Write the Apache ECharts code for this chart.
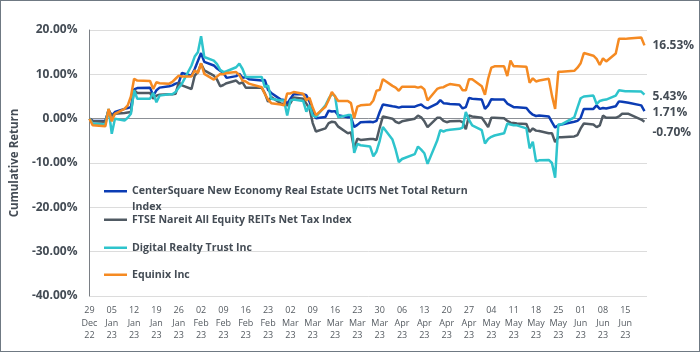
<!DOCTYPE html>
<html>
<head>
<meta charset="utf-8">
<script src="https://cdn.jsdelivr.net/npm/echarts@6/dist/echarts.min.js"></script>
<style>
  html, body { margin: 0; padding: 0; background: #fff; }
  #chart { width: 700px; height: 352px; box-sizing: border-box; border: 1px solid #6f7983; }
</style>
</head>
<body>
<div id="chart"></div>
<script>
// business days of the period
var dates = [
  '2022-12-29','2022-12-30',
  '2023-01-03','2023-01-04','2023-01-05','2023-01-06',
  '2023-01-09','2023-01-10','2023-01-11','2023-01-12','2023-01-13',
  '2023-01-17','2023-01-18','2023-01-19','2023-01-20',
  '2023-01-23','2023-01-24','2023-01-25','2023-01-26','2023-01-27',
  '2023-01-30','2023-01-31','2023-02-01','2023-02-02','2023-02-03',
  '2023-02-06','2023-02-07','2023-02-08','2023-02-09','2023-02-10',
  '2023-02-13','2023-02-14','2023-02-15','2023-02-16','2023-02-17',
  '2023-02-21','2023-02-22','2023-02-23','2023-02-24',
  '2023-02-27','2023-02-28','2023-03-01','2023-03-02','2023-03-03',
  '2023-03-06','2023-03-07','2023-03-08','2023-03-09','2023-03-10',
  '2023-03-13','2023-03-14','2023-03-15','2023-03-16','2023-03-17',
  '2023-03-20','2023-03-21','2023-03-22','2023-03-23','2023-03-24',
  '2023-03-27','2023-03-28','2023-03-29','2023-03-30','2023-03-31',
  '2023-04-03','2023-04-04','2023-04-05','2023-04-06',
  '2023-04-10','2023-04-11','2023-04-12','2023-04-13','2023-04-14',
  '2023-04-17','2023-04-18','2023-04-19','2023-04-20','2023-04-21',
  '2023-04-24','2023-04-25','2023-04-26','2023-04-27','2023-04-28',
  '2023-05-01','2023-05-02','2023-05-03','2023-05-04','2023-05-05',
  '2023-05-08','2023-05-09','2023-05-10','2023-05-11','2023-05-12',
  '2023-05-15','2023-05-16','2023-05-17','2023-05-18','2023-05-19',
  '2023-05-22','2023-05-23','2023-05-24','2023-05-25','2023-05-26',
  '2023-05-30','2023-05-31','2023-06-01','2023-06-02',
  '2023-06-05','2023-06-06','2023-06-07','2023-06-08','2023-06-09',
  '2023-06-12','2023-06-13','2023-06-14','2023-06-15','2023-06-16',
  '2023-06-20','2023-06-21'
];

var centerSquare = [
  0, -0.5,
  -0.5, 1.9, 0.7, 1.5,
  2.2, 2.4, 2.6, 6.6, 6.9,
  7.0, 5.2, 6.4, 7.0,
  7.3, 7.5, 7.9, 8.1, 10.3,
  9.7, 11.2, 13.0, 14.8, 12.8,
  12.0, 11.3, 10.8, 10.3, 9.2,
  9.6, 10.1, 9.2, 9.4, 8.9,
  8.6, 8.7, 6.5, 5.8,
  4.3, 4.2, 3.4, 4.5, 5.5,
  5.5, 5.3, 3.8, 2.0, 0.1,
  0.4, 1.8, 1.6, 1.7, 0.8,
  0.3, 0.3, -1.9, -1.4, -0.8,
  -0.7, -0.8, -0.5, 1.5, 3.2,
  2.8, 2.7, 2.5, 2.7,
  2.7, 3.0, 3.2, 2.6, 2.3,
  3.4, 4.2, 3.5, 3.4, 3.3,
  3.2, 2.3, 2.6, 4.7, 4.5,
  4.3, 2.2, 3.0, 4.4, 4.3,
  4.3, 3.4, 3.0, 2.6, 2.6,
  2.4, 1.5, 0.9, 0.6, 0.7,
  0.5, -0.8, -2.0, -1.5, -1.3,
  -0.7, -0.5, 0.2, 2.2,
  2.2, 3.0, 2.2, 2.4, 2.3,
  2.8, 3.9, 3.8, 3.7, 3.6,
  3.0, 1.71
];

var ftseNareit = [
  0, -0.5,
  -0.7, 1.9, 0.7, 1.1,
  1.3, 1.4, 1.5, 6.4, 5.8,
  5.8, 4.5, 5.2, 5.4,
  5.5, 5.5, 5.6, 8.2, 7.5,
  6.7, 9.7, 10.5, 12.4, 10.9,
  9.7, 8.8, 7.3, 7.6, 8.0,
  8.6, 7.9, 8.2, 7.0, 7.0,
  7.0, 5.7, 3.8, 4.9,
  3.4, 3.3, 3.0, 3.5, 4.8,
  4.5, 3.4, 2.3, -1.0, -2.9,
  -2.2, -1.0, -0.7, -0.8, -1.8,
  -3.3, -3.1, -6.8, -4.5, -4.8,
  -4.6, -4.6, -4.8, -2.0, 0.5,
  0.0, -0.7, -1.0, -0.6,
  0.0, 0.7, 0.3, -0.6, -1.9,
  0.2, 0.2, -0.5, -0.8, -0.6,
  -0.5, -0.8, -2.4, 0.7, 0.5,
  0.2, -0.8, -1.9, 0.2, 0.2,
  0.1, -0.5, -0.9, -1.0, -1.1,
  -1.2, -3.0, -2.2, -2.7, -2.8,
  -3.3, -3.3, -5.3, -4.2, -4.2,
  -4.0, -3.7, -2.2, -1.1,
  -1.3, -1.9, -1.5, 0.7, 0.2,
  0.2, 0.5, 1.1, 1.1, 1.1,
  -0.2, -0.70
];

var digitalRealty = [
  0, -1.1,
  -1.3, 2.2, -3.4, 0.0,
  -0.4, 0.2, 1.1, 6.4, 4.5,
  4.5, 5.8, 3.7, 5.2,
  5.5, 5.5, 6.0, 7.0, 7.9,
  12.0, 14.0, 15.0, 18.6, 13.9,
  13.1, 12.3, 11.0, 10.5, 10.7,
  11.6, 12.4, 11.2, 9.4, 9.4,
  9.4, 7.1, 7.5, 4.5,
  4.1, 4.1, 0.7, 4.1, 4.3,
  4.0, 1.6, 3.0, 0.7, 0.4,
  3.0, 4.5, 5.6, 5.1, 0.3,
  0.8, 0.8, -7.7, -5.7, -6.0,
  -6.3, -8.5, -7.4, -5.0, -1.9,
  -4.7, -7.0, -9.8, -9.1,
  -8.0, -6.3, -7.0, -7.8, -10.2,
  -5.0, -2.6, -2.9, -2.6, -2.5,
  -2.3, -2.0, 1.5, -0.3, -1.5,
  -2.6, -5.6, -4.6, -4.1, -3.8,
  -3.3, -1.1, -1.3, -1.5, -1.5,
  -2.2, -6.7, -5.2, -9.6, -9.4,
  -9.3, -10.0, -13.3, -1.3, -1.3,
  0.3, 2.5, 4.6, 5.0,
  5.2, 3.3, 4.0, 4.2, 4.3,
  5.2, 6.4, 6.3, 6.2, 6.2,
  6.1, 5.43
];

var equinix = [
  0, -1.5,
  -1.7, 2.2, -0.6, 1.1,
  2.2, 3.0, 5.0, 9.0, 8.6,
  8.5, 6.7, 8.2, 8.0,
  7.9, 8.3, 9.0, 9.7, 9.5,
  9.5, 10.9, 10.3, 12.5, 10.1,
  8.8, 9.5, 10.1, 10.0, 10.3,
  10.5, 9.8, 8.6, 8.4, 7.9,
  7.1, 5.6, 4.3, 3.5,
  3.2, 3.0, 5.7, 5.7, 6.0,
  5.6, 4.1, 4.7, 2.5, 0.8,
  2.7, 4.2, 6.0, 5.0, 4.0,
  4.0, 3.5, 0.1, 2.7, 3.0,
  3.2, 4.1, 6.3, 6.5, 8.9,
  7.4, 7.0, 6.3, 7.2,
  7.2, 7.0, 7.2, 6.6, 4.1,
  6.7, 7.0, 7.1, 7.5, 7.8,
  7.5, 6.4, 6.4, 8.9, 8.9,
  7.3, 5.4, 9.0, 11.5, 11.8,
  11.8, 9.6, 13.1, 11.8, 11.8,
  11.7, 8.1, 9.1, 8.4, 8.6,
  9.0, 5.2, 2.2, 10.6, 10.6,
  10.8, 11.5, 12.5, 14.8,
  14.2, 13.5, 12.1, 13.6, 12.9,
  14.7, 18.0, 18.0, 18.0, 18.1,
  18.3, 16.53
];

var seriesNames = [
  'CenterSquare New Economy Real Estate UCITS Net Total Return Index',
  'FTSE Nareit All Equity REITs Net Tax Index',
  'Digital Realty Trust Inc',
  'Equinix Inc'
];
var seriesColors = ['#0b3cb4', '#505a63', '#2ec4cc', '#f58a22'];

var yTicks = [-40, -30, -20, -10, 0, 10, 20];

var startDate = new Date(2022, 11, 29);
var monthNames = ['Jan','Feb','Mar','Apr','May','Jun','Jul','Aug','Sep','Oct','Nov','Dec'];
var textColor = '#444c55';

function dayIndex(s) {
  var p = s.split('-');
  var d = new Date(+p[0], +p[1] - 1, +p[2]);
  return Math.round((d - startDate) / 86400000);
}

function pairs(values) {
  return values.map(function (v, i) { return [dayIndex(dates[i]), v]; });
}

function pad2(n) { return (n < 10 ? '0' : '') + n; }

var allValues = [centerSquare, ftseNareit, digitalRealty, equinix];

var series = allValues.map(function (vals, i) {
  var s = {
    name: seriesNames[i],
    type: 'line',
    data: pairs(vals),
    showSymbol: false,
    symbol: 'none',
    color: seriesColors[i],
    lineStyle: { width: 2.5, color: seriesColors[i] },
    endLabel: {
      show: true,
      distance: 8,
      color: textColor,
      fontFamily: 'Open Sans',
      fontWeight: 'bold',
      fontSize: 12,
      formatter: function (p) { return p.value[1].toFixed(2) + '%'; }
    }
  };
  if (i === 1) {
    s.labelLayout = { dy: 11 };
    s.labelLine = { show: true, lineStyle: { color: '#a6a6a6', width: 1 } };
  }
  if (i === 0) s.endLabel.offset = [0, 1.5];
  if (i === 2) s.endLabel.offset = [0, 2];
  return s;
});

// one legend per item so each row can sit where it does in the original
var legendTops = [167, 211, 239, 266];
var legends = seriesNames.map(function (name, i) {
  return {
    data: [name],
    orient: 'vertical',
    left: 103,
    top: legendTops[i],
    padding: 0,
    icon: 'rect',
    itemWidth: 23,
    itemHeight: 2.5,
    selectedMode: false,
    formatter: function (n) {
      if (i === 0) return '\nCenterSquare New Economy Real Estate UCITS Net Total Return\nIndex';
      return n;
    },
    textStyle: {
      color: textColor,
      fontFamily: 'Open Sans',
      fontWeight: 'bold',
      fontSize: 10.6,
      lineHeight: 15.5
    }
  };
});

var splitColors = yTicks.map(function (t) { return t === 0 ? '#8c9096' : '#dcdcdc'; });

var option = {
  backgroundColor: '#fff',
  animation: false,
  grid: { left: 81, right: 52, top: 29, bottom: 55 },
  legend: legends,
  xAxis: {
    type: 'value',
    min: 0,
    max: 174.8,
    interval: 7,
    axisLine: { show: false },
    axisTick: { show: false },
    splitLine: { show: false },
    axisLabel: {
      showMaxLabel: false,
      margin: 8,
      color: '#555b61',
      fontFamily: 'Open Sans',
      fontSize: 9,
      lineHeight: 12.7,
      formatter: function (v) {
        if (v % 7 !== 0) return '';
        var d = new Date(2022, 11, 29 + v);
        return pad2(d.getDate()) + '\n' + monthNames[d.getMonth()] + '\n' + pad2(d.getFullYear() % 100);
      }
    }
  },
  yAxis: {
    type: 'value',
    min: -40,
    max: 20,
    interval: 10,
    name: 'Cumulative Return',
    nameLocation: 'middle',
    nameGap: 64,
    nameTextStyle: {
      color: textColor,
      fontFamily: 'Open Sans',
      fontWeight: 'bold',
      fontSize: 11.5
    },
    axisLine: { show: true, lineStyle: { color: '#7a7f85', width: 1 } },
    axisTick: { show: false },
    splitLine: { show: true, lineStyle: { color: splitColors, width: 1 } },
    axisLabel: {
      margin: 12,
      color: textColor,
      fontFamily: 'Open Sans',
      fontWeight: 'bold',
      fontSize: 12,
      formatter: function (v) { return v.toFixed(2) + '%'; }
    }
  },
  series: series
};

var chart = echarts.init(document.getElementById('chart'));
chart.setOption(option);
</script>
</body>
</html>
